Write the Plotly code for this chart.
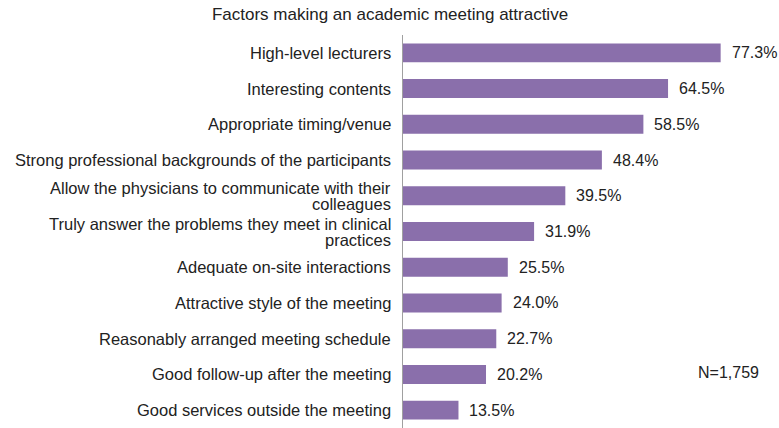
import plotly.graph_objects as go

# Survey factors (top to bottom) and share of respondents
factors = [
    "High-level lecturers",
    "Interesting contents",
    "Appropriate timing/venue",
    "Strong professional backgrounds of the participants",
    "Allow the physicians to communicate with their<br>colleagues",
    "Truly answer the problems they meet in clinical<br>practices",
    "Adequate on-site interactions",
    "Attractive style of the meeting",
    "Reasonably arranged meeting schedule",
    "Good follow-up after the meeting",
    "Good services outside the meeting",
]
shares = [77.3, 64.5, 58.5, 48.4, 39.5, 31.9, 25.5, 24.0, 22.7, 20.2, 13.5]
share_labels = ["%.1f%%" % v for v in shares]

bar_color = "#8a6fab"
text_color = "#222222"

fig = go.Figure(go.Bar(
    x=shares,
    y=factors,
    orientation="h",
    marker=dict(color=bar_color, line=dict(width=0)),
    width=0.53,
    hoverinfo="x+y",
))

# value labels right of each bar
for f, v, lab in zip(factors, shares, share_labels):
    fig.add_annotation(x=v, y=f, text=lab, showarrow=False,
                       xanchor="left", xshift=9,
                       font=dict(size=16, color=text_color))

# category labels, with tight line spacing for the wrapped ones
for f in factors:
    lines = f.split("<br>")
    n = len(lines)
    for i, line in enumerate(lines):
        fig.add_annotation(x=0, xref="paper", y=f, text=line, showarrow=False,
                           xanchor="right", yanchor="middle", xshift=-11,
                           yshift=((n - 1) / 2 - i) * 16, borderpad=0,
                           font=dict(size=16.5, color=text_color))

fig.add_annotation(x=(728 - 403) / (779 - 403), y=(428 - 372) / (428 - 35),
                   xref="paper", yref="paper", xanchor="center", yanchor="middle",
                   text="N=1,759", showarrow=False,
                   font=dict(size=16, color=text_color))

fig.update_layout(
    width=779, height=428,
    margin=dict(l=403, r=0, t=35, b=0, autoexpand=False),
    paper_bgcolor="white",
    plot_bgcolor="white",
    font=dict(family="Liberation Sans, Arial, sans-serif", size=17, color=text_color),
    title=dict(text="Factors making an academic meeting attractive",
               x=390 / 779, xref="container", xanchor="center",
               y=1 - 14 / 428, yref="container", yanchor="middle",
               font=dict(size=17, color=text_color)),
    showlegend=False,
)

fig.update_xaxes(range=[0, 91.5], visible=False, showgrid=False, zeroline=False,
                 automargin=False)
fig.update_yaxes(autorange="reversed", showline=True, linecolor="#a0a0a0", linewidth=1,
                 showgrid=False, showticklabels=False, ticks="", automargin=False)

fig.write_html("out.html", config={"displayModeBar": False},
               post_script="document.body.style.margin='0';")
